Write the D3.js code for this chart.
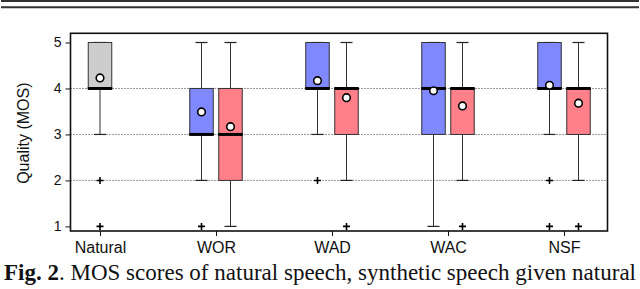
<!DOCTYPE html>
<html>
<head>
<meta charset="utf-8">
<script src="https://cdn.jsdelivr.net/npm/d3@7"></script>
<style>
  body { margin: 0; background: #fff; }
  svg { display: block; }
  .axis text { font-family: "Liberation Sans", Arial, sans-serif; fill: #111; }
  .axis path, .axis line { stroke: #111; }
</style>
</head>
<body>
<svg width="640" height="289"></svg>
<script>
const svg = d3.select("svg");
const width = +svg.attr("width");

// data
const categories = ["Natural", "WOR", "WAD", "WAC", "NSF"];
const boxGroup  = ["Natural", "WOR", "WOR", "WAD", "WAD", "WAC", "WAC", "NSF", "NSF"];
const boxSeries = ["nat", "A", "B", "A", "B", "A", "B", "A", "B"];
const q1      = [4, 3, 2, 4, 3, 3, 3, 4, 3];
const median  = [4, 3, 3, 4, 4, 4, 4, 4, 4];
const q3      = [5, 4, 4, 5, 4, 5, 4, 5, 4];
const whiskLo = [3, 2, 1, 3, 2, 1, 2, 3, 2];
const whiskHi = [5, 5, 5, 5, 5, 5, 5, 5, 5];
const means   = [4.23, 3.49, 3.17, 4.17, 3.80, 3.95, 3.62, 4.07, 3.68];
const outliers = [[2, 1], [1], [], [2], [1], [], [1], [2, 1], [1]];
const yTicks = [1, 2, 3, 4, 5];
const gridTicks = [2, 3, 4];
const fills = { nat: "#cdcdcd", A: "#8088ff", B: "#ff8088" };

const boxes = boxGroup.map((g, i) => ({
  g, s: boxSeries[i], q1: q1[i], med: median[i], q3: q3[i],
  lo: whiskLo[i], hi: whiskHi[i], mean: means[i], out: outliers[i]
}));

const plot = { left: 70.5, right: 607.5, top: 33.3, bottom: 231 };

const x = d3.scalePoint().domain(categories).range([100, 564]);
const sub = d3.scaleBand().domain(["A", "B"]).range([-29, 29]);
const y = d3.scaleLinear().domain([0.9, 5.2]).range([plot.bottom, plot.top]);
const boxW = 23.5;
const cx = d => x(d.g) + (d.s === "nat" ? 0 : sub(d.s) + sub.bandwidth() / 2);

// double rule at the top of the page
svg.append("line").attr("x1", 1).attr("x2", 639).attr("y1", 1).attr("y2", 1)
  .attr("stroke", "#333").attr("stroke-width", 2);
svg.append("line").attr("x1", 1).attr("x2", 639).attr("y1", 7.3).attr("y2", 7.3)
  .attr("stroke", "#333").attr("stroke-width", 2);

// grid
svg.append("g").selectAll("line").data(gridTicks).join("line")
  .attr("x1", plot.left).attr("x2", plot.right)
  .attr("y1", d => y(d)).attr("y2", d => y(d))
  .attr("stroke", "#333").attr("stroke-width", 1).attr("stroke-dasharray", "1,2");

const g = svg.append("g").selectAll("g").data(boxes).join("g");

// whiskers
g.append("line").attr("x1", cx).attr("x2", cx)
  .attr("y1", d => y(d.q3)).attr("y2", d => y(d.hi)).attr("stroke", "#333");
g.append("line").attr("x1", cx).attr("x2", cx)
  .attr("y1", d => y(d.q1)).attr("y2", d => y(d.lo)).attr("stroke", "#333");
g.append("line").attr("x1", d => cx(d) - 6).attr("x2", d => cx(d) + 6)
  .attr("y1", d => y(d.hi)).attr("y2", d => y(d.hi)).attr("stroke", "#222").attr("stroke-width", 1.2);
g.append("line").attr("x1", d => cx(d) - 6).attr("x2", d => cx(d) + 6)
  .attr("y1", d => y(d.lo)).attr("y2", d => y(d.lo)).attr("stroke", "#222").attr("stroke-width", 1.2);

// boxes
g.append("rect")
  .attr("x", d => cx(d) - boxW / 2).attr("width", boxW)
  .attr("y", d => y(d.q3)).attr("height", d => y(d.q1) - y(d.q3))
  .attr("fill", d => fills[d.s]).attr("stroke", "#333").attr("stroke-width", 1);

// median
g.append("line").attr("x1", d => cx(d) - boxW / 2 - 0.5).attr("x2", d => cx(d) + boxW / 2 + 0.5)
  .attr("y1", d => y(d.med)).attr("y2", d => y(d.med))
  .attr("stroke", "#000").attr("stroke-width", 3);

// outliers
g.selectAll("path").data(d => d.out.map(v => ({ x: cx(d), v }))).join("path")
  .attr("d", o => `M${o.x - 3.5},${y(o.v)}h7M${o.x},${y(o.v) - 3.5}v7`)
  .attr("stroke", "#000").attr("stroke-width", 1.6).attr("fill", "none");

// means
g.append("circle").attr("cx", cx).attr("cy", d => y(d.mean)).attr("r", 3.8)
  .attr("fill", "#fff").attr("stroke", "#000").attr("stroke-width", 1.6);

// axes
svg.append("g").attr("class", "axis")
  .attr("transform", `translate(${plot.left},0)`)
  .call(d3.axisLeft(y).tickValues(yTicks).tickSize(5).tickPadding(4).tickFormat(d3.format("d")))
  .call(a => a.select(".domain").remove())
  .selectAll("text").style("font-size", "14px");

svg.append("g").attr("class", "axis")
  .attr("transform", `translate(0,${plot.bottom})`)
  .call(d3.axisBottom(x).tickSize(5).tickPadding(6))
  .call(a => a.select(".domain").remove())
  .selectAll("text").style("font-size", "16px");

svg.append("rect")
  .attr("x", plot.left).attr("y", plot.top)
  .attr("width", plot.right - plot.left).attr("height", plot.bottom - plot.top)
  .attr("fill", "none").attr("stroke", "#111").attr("stroke-width", 1.6);

svg.append("text")
  .attr("transform", `translate(29,${(plot.top + plot.bottom) / 2 + 1}) rotate(-90)`)
  .attr("text-anchor", "middle")
  .style("font-family", "Liberation Sans, Arial, sans-serif").style("font-size", "16px")
  .attr("fill", "#111")
  .text("Quality (MOS)");

// caption
const cap = svg.append("text").attr("x", 4).attr("y", 280)
  .attr("textLength", 632).attr("lengthAdjust", "spacing")
  .style("font-family", "Liberation Serif, Times New Roman, serif").style("font-size", "23px")
  .attr("fill", "#111");
cap.append("tspan").style("font-weight", "bold").text("Fig. 2");
cap.append("tspan").text(". MOS scores of natural speech, synthetic speech given natural");
</script>
</body>
</html>
